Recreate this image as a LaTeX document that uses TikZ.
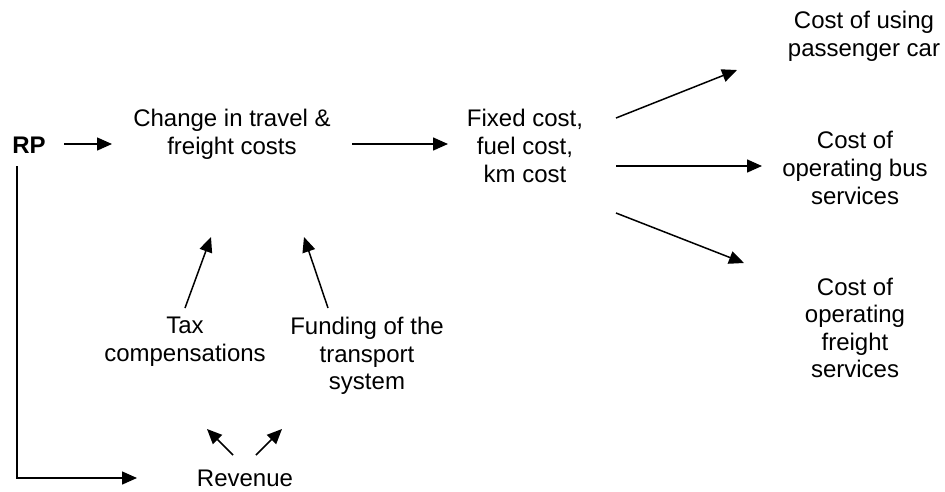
\documentclass[tikz,border=0pt]{standalone}
\usepackage{fontspec}
\setmainfont{Liberation Sans}
\usetikzlibrary{arrows.meta}
\begin{document}
\begin{tikzpicture}[x=1pt,y=-1pt,
  lbl/.style={align=center,inner sep=0pt,font=\fontsize{24}{27.6}\selectfont},
  arr/.style={line width=1.5pt,-{Triangle[length=15pt,width=13pt]}}]
\useasboundingbox (0,0) rectangle (945,491);
\node[lbl,font=\fontsize{24}{27.6}\selectfont\bfseries] (rp) at (29,145) {RP};
\node[lbl] (chg) at (232,134) {Change in travel \&\\freight costs};
\node[lbl] (fix) at (525,146) {Fixed cost,\\fuel cost,\\km cost};
\node[lbl] (car) at (864,36) {Cost of using\\passenger car};
\node[lbl] (bus) at (855,168) {Cost of\\operating bus\\services};
\node[lbl] (frt) at (855,328) {Cost of\\operating\\freight\\services};
\node[lbl] (tax) at (185,342) {Tax\\compensations};
\node[lbl] (fund) at (367,356) {Funding of the\\transport\\system};
\node[lbl] (rev) at (245,478) {Revenue};
\coordinate (a1) at (64,144); \coordinate (a2) at (112,144);
\coordinate (b1) at (352,144); \coordinate (b2) at (448,144);
\coordinate (c1) at (616,118); \coordinate (c2) at (737,70);
\coordinate (d1) at (616,166); \coordinate (d2) at (762,166);
\coordinate (e1) at (616,213); \coordinate (e2) at (744,263);
\coordinate (f1) at (185,308); \coordinate (f2) at (211,237);
\coordinate (g1) at (328,308); \coordinate (g2) at (304,237);
\coordinate (h1) at (233,455); \coordinate (h2) at (207,429);
\coordinate (i1) at (256,455); \coordinate (i2) at (282,429);
\coordinate (j1) at (17,166); \coordinate (j2) at (17,478); \coordinate (j3) at (137,478);
\draw[arr] (a1) -- (a2);
\draw[arr] (b1) -- (b2);
\draw[arr] (c1) -- (c2);
\draw[arr] (d1) -- (d2);
\draw[arr] (e1) -- (e2);
\draw[arr] (f1) -- (f2);
\draw[arr] (g1) -- (g2);
\draw[arr] (h1) -- (h2);
\draw[arr] (i1) -- (i2);
\draw[arr] (j1) -- (j2) -- (j3);
\end{tikzpicture}
\end{document}
